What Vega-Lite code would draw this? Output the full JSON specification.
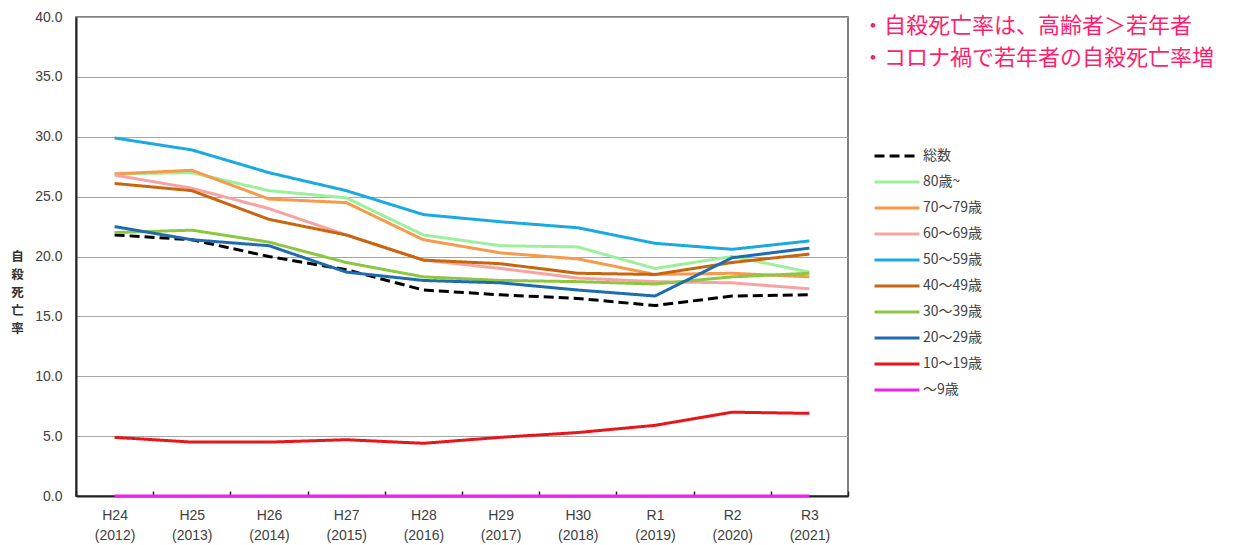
{
  "$schema": "https://vega.github.io/schema/vega-lite/v6.json",
  "width": 772,
  "height": 479,
  "autosize": {"type": "none"},
  "padding": {"left": 76, "top": 17, "right": 405, "bottom": 49},
  "background": "white",
  "config": {
    "font": "Noto Sans CJK JP",
    "view": {"stroke": "#555555", "strokeWidth": 1.5}
  },
  "data": {
    "values": [
      {"year": "H24 (2012)", "series": "総数", "rate": 21.8},
      {"year": "H25 (2013)", "series": "総数", "rate": 21.4},
      {"year": "H26 (2014)", "series": "総数", "rate": 20.0},
      {"year": "H27 (2015)", "series": "総数", "rate": 18.9},
      {"year": "H28 (2016)", "series": "総数", "rate": 17.2},
      {"year": "H29 (2017)", "series": "総数", "rate": 16.8},
      {"year": "H30 (2018)", "series": "総数", "rate": 16.5},
      {"year": "R1 (2019)", "series": "総数", "rate": 15.9},
      {"year": "R2 (2020)", "series": "総数", "rate": 16.7},
      {"year": "R3 (2021)", "series": "総数", "rate": 16.8},
      {"year": "H24 (2012)", "series": "80歳~", "rate": 26.9},
      {"year": "H25 (2013)", "series": "80歳~", "rate": 27.0},
      {"year": "H26 (2014)", "series": "80歳~", "rate": 25.5},
      {"year": "H27 (2015)", "series": "80歳~", "rate": 24.9},
      {"year": "H28 (2016)", "series": "80歳~", "rate": 21.8},
      {"year": "H29 (2017)", "series": "80歳~", "rate": 20.9},
      {"year": "H30 (2018)", "series": "80歳~", "rate": 20.8},
      {"year": "R1 (2019)", "series": "80歳~", "rate": 19.0},
      {"year": "R2 (2020)", "series": "80歳~", "rate": 20.0},
      {"year": "R3 (2021)", "series": "80歳~", "rate": 18.7},
      {"year": "H24 (2012)", "series": "70～79歳", "rate": 26.9},
      {"year": "H25 (2013)", "series": "70～79歳", "rate": 27.2},
      {"year": "H26 (2014)", "series": "70～79歳", "rate": 24.8},
      {"year": "H27 (2015)", "series": "70～79歳", "rate": 24.5},
      {"year": "H28 (2016)", "series": "70～79歳", "rate": 21.4},
      {"year": "H29 (2017)", "series": "70～79歳", "rate": 20.3},
      {"year": "H30 (2018)", "series": "70～79歳", "rate": 19.8},
      {"year": "R1 (2019)", "series": "70～79歳", "rate": 18.5},
      {"year": "R2 (2020)", "series": "70～79歳", "rate": 18.6},
      {"year": "R3 (2021)", "series": "70～79歳", "rate": 18.3},
      {"year": "H24 (2012)", "series": "60～69歳", "rate": 26.8},
      {"year": "H25 (2013)", "series": "60～69歳", "rate": 25.7},
      {"year": "H26 (2014)", "series": "60～69歳", "rate": 24.0},
      {"year": "H27 (2015)", "series": "60～69歳", "rate": 21.8},
      {"year": "H28 (2016)", "series": "60～69歳", "rate": 19.7},
      {"year": "H29 (2017)", "series": "60～69歳", "rate": 19.0},
      {"year": "H30 (2018)", "series": "60～69歳", "rate": 18.2},
      {"year": "R1 (2019)", "series": "60～69歳", "rate": 17.9},
      {"year": "R2 (2020)", "series": "60～69歳", "rate": 17.8},
      {"year": "R3 (2021)", "series": "60～69歳", "rate": 17.3},
      {"year": "H24 (2012)", "series": "50～59歳", "rate": 29.9},
      {"year": "H25 (2013)", "series": "50～59歳", "rate": 28.9},
      {"year": "H26 (2014)", "series": "50～59歳", "rate": 27.0},
      {"year": "H27 (2015)", "series": "50～59歳", "rate": 25.5},
      {"year": "H28 (2016)", "series": "50～59歳", "rate": 23.5},
      {"year": "H29 (2017)", "series": "50～59歳", "rate": 22.9},
      {"year": "H30 (2018)", "series": "50～59歳", "rate": 22.4},
      {"year": "R1 (2019)", "series": "50～59歳", "rate": 21.1},
      {"year": "R2 (2020)", "series": "50～59歳", "rate": 20.6},
      {"year": "R3 (2021)", "series": "50～59歳", "rate": 21.3},
      {"year": "H24 (2012)", "series": "40～49歳", "rate": 26.1},
      {"year": "H25 (2013)", "series": "40～49歳", "rate": 25.5},
      {"year": "H26 (2014)", "series": "40～49歳", "rate": 23.1},
      {"year": "H27 (2015)", "series": "40～49歳", "rate": 21.8},
      {"year": "H28 (2016)", "series": "40～49歳", "rate": 19.7},
      {"year": "H29 (2017)", "series": "40～49歳", "rate": 19.4},
      {"year": "H30 (2018)", "series": "40～49歳", "rate": 18.6},
      {"year": "R1 (2019)", "series": "40～49歳", "rate": 18.5},
      {"year": "R2 (2020)", "series": "40～49歳", "rate": 19.5},
      {"year": "R3 (2021)", "series": "40～49歳", "rate": 20.2},
      {"year": "H24 (2012)", "series": "30～39歳", "rate": 22.0},
      {"year": "H25 (2013)", "series": "30～39歳", "rate": 22.2},
      {"year": "H26 (2014)", "series": "30～39歳", "rate": 21.2},
      {"year": "H27 (2015)", "series": "30～39歳", "rate": 19.5},
      {"year": "H28 (2016)", "series": "30～39歳", "rate": 18.3},
      {"year": "H29 (2017)", "series": "30～39歳", "rate": 18.0},
      {"year": "H30 (2018)", "series": "30～39歳", "rate": 17.9},
      {"year": "R1 (2019)", "series": "30～39歳", "rate": 17.7},
      {"year": "R2 (2020)", "series": "30～39歳", "rate": 18.3},
      {"year": "R3 (2021)", "series": "30～39歳", "rate": 18.6},
      {"year": "H24 (2012)", "series": "20～29歳", "rate": 22.5},
      {"year": "H25 (2013)", "series": "20～29歳", "rate": 21.4},
      {"year": "H26 (2014)", "series": "20～29歳", "rate": 20.9},
      {"year": "H27 (2015)", "series": "20～29歳", "rate": 18.7},
      {"year": "H28 (2016)", "series": "20～29歳", "rate": 18.0},
      {"year": "H29 (2017)", "series": "20～29歳", "rate": 17.8},
      {"year": "H30 (2018)", "series": "20～29歳", "rate": 17.2},
      {"year": "R1 (2019)", "series": "20～29歳", "rate": 16.7},
      {"year": "R2 (2020)", "series": "20～29歳", "rate": 19.9},
      {"year": "R3 (2021)", "series": "20～29歳", "rate": 20.7},
      {"year": "H24 (2012)", "series": "10～19歳", "rate": 4.9},
      {"year": "H25 (2013)", "series": "10～19歳", "rate": 4.5},
      {"year": "H26 (2014)", "series": "10～19歳", "rate": 4.5},
      {"year": "H27 (2015)", "series": "10～19歳", "rate": 4.7},
      {"year": "H28 (2016)", "series": "10～19歳", "rate": 4.4},
      {"year": "H29 (2017)", "series": "10～19歳", "rate": 4.9},
      {"year": "H30 (2018)", "series": "10～19歳", "rate": 5.3},
      {"year": "R1 (2019)", "series": "10～19歳", "rate": 5.9},
      {"year": "R2 (2020)", "series": "10～19歳", "rate": 7.0},
      {"year": "R3 (2021)", "series": "10～19歳", "rate": 6.9},
      {"year": "H24 (2012)", "series": "～9歳", "rate": 0},
      {"year": "H25 (2013)", "series": "～9歳", "rate": 0},
      {"year": "H26 (2014)", "series": "～9歳", "rate": 0},
      {"year": "H27 (2015)", "series": "～9歳", "rate": 0},
      {"year": "H28 (2016)", "series": "～9歳", "rate": 0},
      {"year": "H29 (2017)", "series": "～9歳", "rate": 0},
      {"year": "H30 (2018)", "series": "～9歳", "rate": 0},
      {"year": "R1 (2019)", "series": "～9歳", "rate": 0},
      {"year": "R2 (2020)", "series": "～9歳", "rate": 0},
      {"year": "R3 (2021)", "series": "～9歳", "rate": 0}
    ]
  },
  "mark": {"type": "line", "strokeWidth": 3, "strokeJoin": "round"},
  "encoding": {
    "x": {
      "field": "year",
      "type": "nominal",
      "sort": null,
      "scale": {"type": "band", "paddingInner": 0, "paddingOuter": 0},
      "axis": {
        "title": null,
        "labelAngle": 0,
        "labelExpr": "split(datum.label, ' ')",
        "labelFont": "Liberation Sans",
        "labelFontSize": 14,
        "labelColor": "#404040",
        "labelLineHeight": 20,
        "labelPadding": 17,
        "tickBand": "extent",
        "tickSize": -5,
        "tickColor": "#222222",
        "tickWidth": 1.5,
        "domainColor": "#222222",
        "domainWidth": 2,
        "grid": false
      }
    },
    "y": {
      "field": "rate",
      "type": "quantitative",
      "scale": {"domain": [0, 40]},
      "axis": {
        "title": ["自", "殺", "死", "亡", "率"],
        "titleAngle": 0,
        "titleX": -59,
        "titleY": 239,
        "titleAlign": "center",
        "titleBaseline": "middle",
        "titleFontSize": 12.5,
        "titleFontWeight": "bold",
        "titleLineHeight": 18,
        "titleColor": "#333333",
        "values": [0, 5, 10, 15, 20, 25, 30, 35, 40],
        "format": ".1f",
        "labelFont": "Liberation Sans",
        "labelFontSize": 14,
        "labelColor": "#404040",
        "ticks": false,
        "labelPadding": 14,
        "domainColor": "#222222",
        "domainWidth": 2,
        "gridColor": "#A6A6A6",
        "gridWidth": 1
      }
    },
    "color": {
      "field": "series",
      "type": "nominal",
      "scale": {
        "domain": ["総数", "80歳~", "70～79歳", "60～69歳", "50～59歳", "40～49歳", "30～39歳", "20～29歳", "10～19歳", "～9歳"],
        "range": ["#000000", "#9CF09C", "#F79A4B", "#F7A3A3", "#1BA9E1", "#C8660F", "#8DC63F", "#1F6BB0", "#E8151B", "#EE22EE"]
      },
      "legend": {
        "orient": "none",
        "legendX": 786,
        "legendY": -1,
        "padding": 0,
        "title": ["・自殺死亡率は、高齢者＞若年者", "・コロナ禍で若年者の自殺死亡率増"],
        "titleFontSize": 22,
        "titleFontWeight": "normal",
        "titleColor": "#FF1E6E",
        "titleLineHeight": 32,
        "titlePadding": 77,
        "titleLimit": 500,
        "symbolType": "M0.47,0H6.47",
        "symbolSize": 225,
        "symbolStrokeWidth": 3,
        "labelFontSize": 14,
        "labelColor": "#404040",
        "labelOffset": 43,
        "rowPadding": 10
      }
    },
    "strokeDash": {
      "field": "series",
      "type": "nominal",
      "scale": {
        "domain": ["総数", "80歳~", "70～79歳", "60～69歳", "50～59歳", "40～49歳", "30～39歳", "20～29歳", "10～19歳", "～9歳"],
        "range": [[10, 5], [1, 0], [1, 0], [1, 0], [1, 0], [1, 0], [1, 0], [1, 0], [1, 0], [1, 0]]
      }
    }
  }
}
